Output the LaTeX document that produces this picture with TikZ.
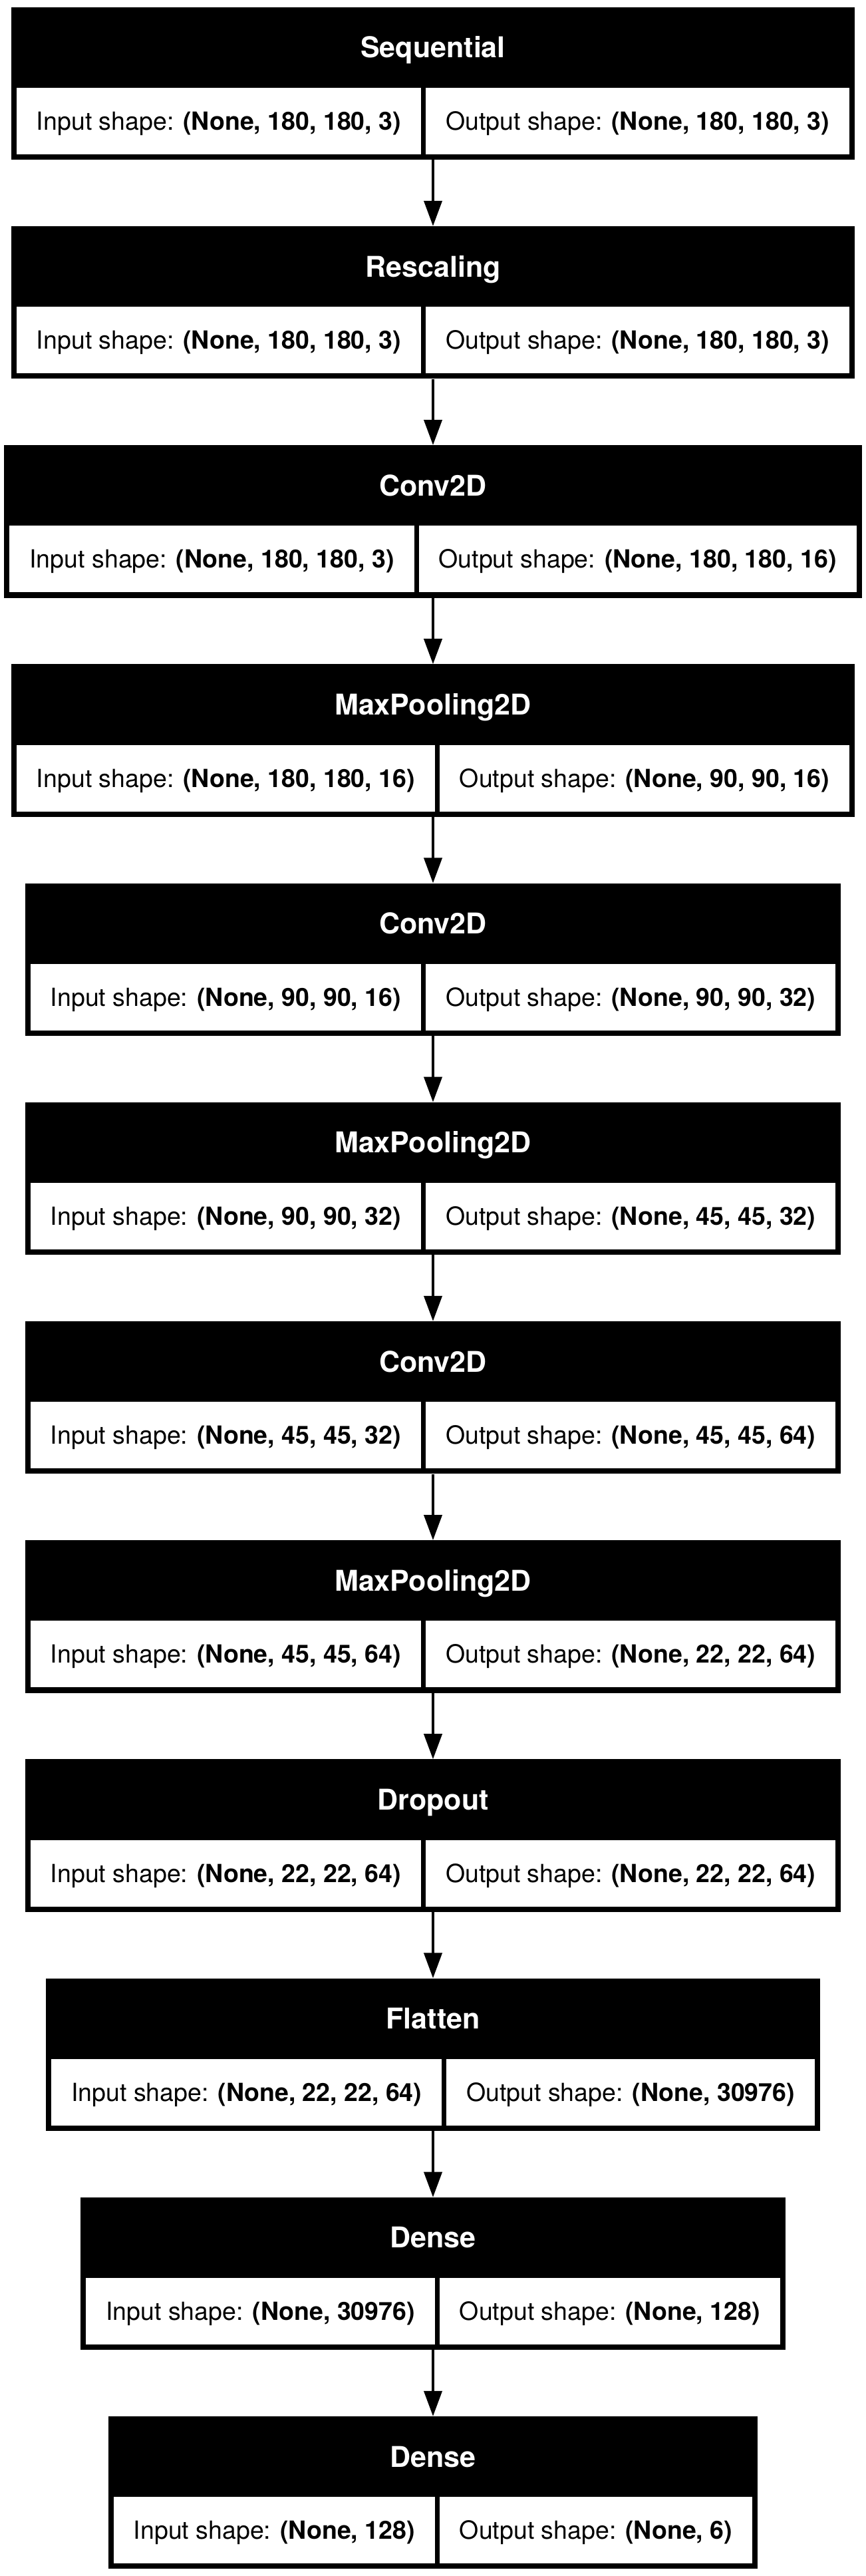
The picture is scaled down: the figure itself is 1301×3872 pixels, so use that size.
\documentclass[tikz,border=0pt]{standalone}
\usepackage{fontspec}
\setmainfont{TeX Gyre Heros}
\usepackage{tikz}
\usetikzlibrary{
  positioning,
  arrows.meta,
  fit,
  backgrounds,
  matrix
}

\begin{document}
\begin{tikzpicture}[
  x=1pt, y=-1pt,
  shapecell/.style={fill=white, minimum height=100pt, inner xsep=30pt, inner ysep=0pt,
             text height=27pt, text depth=0pt, font=\fontsize{37.5}{45}\selectfont},
  shaperow/.style={column sep=7pt, inner sep=0pt},
  headtext/.style={text=white, inner sep=0pt, text height=31pt, text depth=0pt,
             font=\fontsize{43}{50}\selectfont\bfseries},
  layerbox/.style={fill=black, inner sep=0pt,
             fit={([shift={(-8pt,-8pt)}]#1.south west) ([shift={(8pt,121pt)}]#1.north east)}},
  arr/.style={-{Triangle[length=38pt, width=27pt]}, line width=4pt, black}
]
  \useasboundingbox (0,0) rectangle (1301,3872);

  % Layers
  \matrix (seqrow) [shaperow] at (651, 182) {
    \node[shapecell] (seqin) {Input shape: \textbf{(None, 180, 180, 3)}}; &
    \node[shapecell] (seqout) {Output shape: \textbf{(None, 180, 180, 3)}}; \\
  };
  \node[headtext] (seqtitle) at ([yshift=60.5pt]seqrow.north) {Sequential};

  \matrix (rescrow) [shaperow] at (651, 511.2) {
    \node[shapecell] (rescin) {Input shape: \textbf{(None, 180, 180, 3)}}; &
    \node[shapecell] (rescout) {Output shape: \textbf{(None, 180, 180, 3)}}; \\
  };
  \node[headtext] (resctitle) at ([yshift=60.5pt]rescrow.north) {Rescaling};

  \matrix (convarow) [shaperow] at (651, 840.4) {
    \node[shapecell] (convain) {Input shape: \textbf{(None, 180, 180, 3)}}; &
    \node[shapecell] (convaout) {Output shape: \textbf{(None, 180, 180, 16)}}; \\
  };
  \node[headtext] (convatitle) at ([yshift=60.5pt]convarow.north) {Conv2D};

  \matrix (poolarow) [shaperow] at (651, 1169.6) {
    \node[shapecell] (poolain) {Input shape: \textbf{(None, 180, 180, 16)}}; &
    \node[shapecell] (poolaout) {Output shape: \textbf{(None, 90, 90, 16)}}; \\
  };
  \node[headtext] (poolatitle) at ([yshift=60.5pt]poolarow.north) {MaxPooling2D};

  \matrix (convbrow) [shaperow] at (651, 1498.8) {
    \node[shapecell] (convbin) {Input shape: \textbf{(None, 90, 90, 16)}}; &
    \node[shapecell] (convbout) {Output shape: \textbf{(None, 90, 90, 32)}}; \\
  };
  \node[headtext] (convbtitle) at ([yshift=60.5pt]convbrow.north) {Conv2D};

  \matrix (poolbrow) [shaperow] at (651, 1828) {
    \node[shapecell] (poolbin) {Input shape: \textbf{(None, 90, 90, 32)}}; &
    \node[shapecell] (poolbout) {Output shape: \textbf{(None, 45, 45, 32)}}; \\
  };
  \node[headtext] (poolbtitle) at ([yshift=60.5pt]poolbrow.north) {MaxPooling2D};

  \matrix (convcrow) [shaperow] at (651, 2157.2) {
    \node[shapecell] (convcin) {Input shape: \textbf{(None, 45, 45, 32)}}; &
    \node[shapecell] (convcout) {Output shape: \textbf{(None, 45, 45, 64)}}; \\
  };
  \node[headtext] (convctitle) at ([yshift=60.5pt]convcrow.north) {Conv2D};

  \matrix (poolcrow) [shaperow] at (651, 2486.4) {
    \node[shapecell] (poolcin) {Input shape: \textbf{(None, 45, 45, 64)}}; &
    \node[shapecell] (poolcout) {Output shape: \textbf{(None, 22, 22, 64)}}; \\
  };
  \node[headtext] (poolctitle) at ([yshift=60.5pt]poolcrow.north) {MaxPooling2D};

  \matrix (droprow) [shaperow] at (651, 2815.6) {
    \node[shapecell] (dropin) {Input shape: \textbf{(None, 22, 22, 64)}}; &
    \node[shapecell] (dropout) {Output shape: \textbf{(None, 22, 22, 64)}}; \\
  };
  \node[headtext] (droptitle) at ([yshift=60.5pt]droprow.north) {Dropout};

  \matrix (flatrow) [shaperow] at (651, 3144.8) {
    \node[shapecell] (flatin) {Input shape: \textbf{(None, 22, 22, 64)}}; &
    \node[shapecell] (flatout) {Output shape: \textbf{(None, 30976)}}; \\
  };
  \node[headtext] (flattitle) at ([yshift=60.5pt]flatrow.north) {Flatten};

  \matrix (densearow) [shaperow] at (651, 3474) {
    \node[shapecell] (denseain) {Input shape: \textbf{(None, 30976)}}; &
    \node[shapecell] (denseaout) {Output shape: \textbf{(None, 128)}}; \\
  };
  \node[headtext] (denseatitle) at ([yshift=60.5pt]densearow.north) {Dense};

  \matrix (densebrow) [shaperow] at (651, 3803.2) {
    \node[shapecell] (densebin) {Input shape: \textbf{(None, 128)}}; &
    \node[shapecell] (densebout) {Output shape: \textbf{(None, 6)}}; \\
  };
  \node[headtext] (densebtitle) at ([yshift=60.5pt]densebrow.north) {Dense};

  % Black frames behind the rows
  \begin{scope}[on background layer]
    \node[layerbox=seqrow] (seq) {};
    \node[layerbox=rescrow] (resc) {};
    \node[layerbox=convarow] (conva) {};
    \node[layerbox=poolarow] (poola) {};
    \node[layerbox=convbrow] (convb) {};
    \node[layerbox=poolbrow] (poolb) {};
    \node[layerbox=convcrow] (convc) {};
    \node[layerbox=poolcrow] (poolc) {};
    \node[layerbox=droprow] (drop) {};
    \node[layerbox=flatrow] (flat) {};
    \node[layerbox=densearow] (densea) {};
    \node[layerbox=densebrow] (denseb) {};
  \end{scope}

  % Connections
  \draw[arr] (seq) -- (resc);
  \draw[arr] (resc) -- (conva);
  \draw[arr] (conva) -- (poola);
  \draw[arr] (poola) -- (convb);
  \draw[arr] (convb) -- (poolb);
  \draw[arr] (poolb) -- (convc);
  \draw[arr] (convc) -- (poolc);
  \draw[arr] (poolc) -- (drop);
  \draw[arr] (drop) -- (flat);
  \draw[arr] (flat) -- (densea);
  \draw[arr] (densea) -- (denseb);
\end{tikzpicture}
\end{document}
